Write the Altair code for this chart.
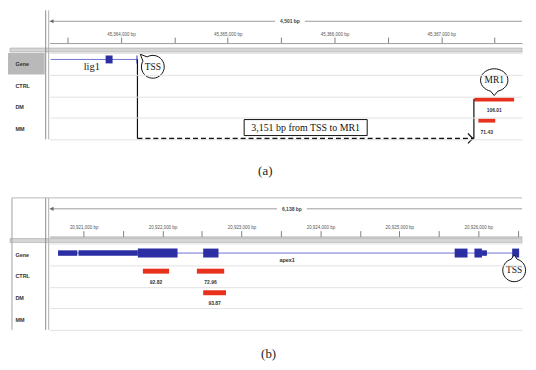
import altair as alt
import pandas as pd

TRACKS = ["Gene", "CTRL", "DM", "MM"]

# ---------------- Panel (a): lig1 locus ----------------
A_DOMAIN = [45363333, 45367757]
A_VIEW = [45363333, 45367834]
A_SPAN_LABEL = "4,501 bp"
A_TICKS = [45363500, 45364000, 45364500, 45365000, 45365500,
           45366000, 45366500, 45367000, 45367500]
A_INTRON = [45363343, 45364155]
A_EXON_START = [45363857, 45364146]
A_EXON_END = [45363922, 45364155]
A_GENE = "lig1"
A_GENE_LABEL_POS = 45363727
A_TSS = 45364155
A_MR1 = 45367306
A_PEAK_TRACK = ["DM", "MM"]
A_PEAK_START = [45367310, 45367348]
A_PEAK_END = [45367683, 45367506]
A_PEAK_VALUE = ["106.01", "71.43"]
A_DIST_LABEL = "3,151 bp from TSS to MR1"

# ---------------- Panel (b): apex1 locus ----------------
B_DOMAIN = [20920570, 20926555]
B_VIEW = [20920570, 20926708]
B_SPAN_LABEL = "6,138 bp"
B_TICKS = [20921000, 20921500, 20922000, 20922500, 20923000, 20923500,
           20924000, 20924500, 20925000, 20925500, 20926000, 20926500]
B_INTRON = [20920676, 20926518]
B_UTR_START = [20920676, 20920935, 20926047]
B_UTR_END = [20920920, 20921687, 20926110]
B_EXON_START = [20921687, 20922515, 20925701, 20925952, 20926430]
B_EXON_END = [20922190, 20922709, 20925864, 20926047, 20926518]
B_GENE = "apex1"
B_GENE_LABEL_POS = 20923578
B_TSS = 20926518
B_PEAK_TRACK = ["CTRL", "CTRL", "DM"]
B_PEAK_START = [20921751, 20922435, 20922515]
B_PEAK_END = [20922083, 20922781, 20922804]
B_PEAK_VALUE = ["92.82", "72.96", "93.87"]

# ---------------- styling ----------------
W = 476
H = 87
LEFT = 42
SERIF = "Liberation Serif"
SANS = "Liberation Sans"
BLUE = "#2b2fa3"
INTRON_BLUE = "#6f73d2"
RED = "#e8321e"

BUBBLE_DOWN = "M 0.31 0.966 A 1.2 1 0 1 0 -0.31 0.966 L 0 1.35 Z"
BUBBLE_UP = "M 0.26 -0.966 A 1 1 0 1 1 -0.26 -0.966 L 0 -1.35 Z"
BUBBLE_UPLEFT = "M -0.5 -0.866 A 1 1 0 1 1 -0.866 -0.5 L -1.1 -1.1 Z"
CHEVRON = "M -1 -1 L 0 0 L -1 1"
LABEL_BACK = "M -1 -0.3 H 1 V 0.3 H -1 Z"
TEXT_BOX = "M -1 -0.13 H 1 V 0.13 H -1 Z"


def X(field, xs):
    return alt.X(field + ":Q", scale=xs)


def Y(ys, field="track"):
    return alt.Y(field + ":N", sort=TRACKS, scale=ys)


def frame_layers(domain, view, span_label, ticks, axis_offset, top, gene_box):
    xs = alt.Scale(domain=domain, nice=False, zero=False)
    ys = alt.Scale(domain=TRACKS, paddingInner=0, paddingOuter=0)
    one = pd.DataFrame({"k": [0]})

    axis_df = pd.DataFrame({"pos": ticks, "track": "Gene"})
    axes = alt.Chart(axis_df).mark_point(opacity=0).encode(
        x=alt.X("pos:Q", scale=xs, axis=alt.Axis(
            orient="top", values=ticks, title=None, grid=False,
            labelExpr="datum.value % 1000 == 0 ? format(datum.value, ',') + ' bp' : ''",
            tickSize=6, offset=axis_offset, domainColor="#9a9a9a",
            tickColor="#808080", labelFontSize=4.5, labelColor="#555",
            labelFont=SANS, labelPadding=1)),
        y=alt.Y("track:N", sort=TRACKS, scale=ys, axis=alt.Axis(
            orient="left", title=None, ticks=False, domain=False,
            labelAlign="left", labelPadding=35, labelFontSize=5.5,
            labelFontWeight="bold", labelColor="#333", labelFont=SANS,
            grid=True, gridColor="#e2e2e2", tickBand="extent", zindex=1)),
    )

    layers = [axes]
    if gene_box:
        box = alt.Chart(pd.DataFrame({"track": ["Gene"]})).mark_rect(
            color="#b9b9b9").encode(
            y=Y(ys), x=alt.value(-LEFT), x2=alt.value(-5))
        layers.append(box)

    band = alt.Chart(one).mark_rect(color="#d6d6d6", stroke="#a8a8a8",
                                    strokeWidth=0.6).encode(
        x=alt.value(-LEFT + 2), x2=alt.value(W), y=alt.value(-5), y2=alt.value(-1))
    sep1 = alt.Chart(one).mark_rule(color="#8a8a8a", strokeWidth=1).encode(
        x=alt.value(-4), y=alt.value(top), y2=alt.value(H))
    sep2 = alt.Chart(one).mark_rule(color="#b0b0b0", strokeWidth=1).encode(
        x=alt.value(-1), y=alt.value(top), y2=alt.value(H))
    layers += [band, sep1, sep2]

    ruler_df = pd.DataFrame({"start": [view[0]], "end": [domain[1]],
                             "mid": [(view[0] + view[1]) / 2],
                             "label": [span_label]})
    rb = alt.Chart(ruler_df)
    ry = top + 11
    layers += [
        rb.mark_rule(color="#9a9a9a", strokeWidth=1).encode(
            x=X("start", xs), x2="end:Q", y=alt.value(ry)),
        rb.mark_point(shape="triangle-left", size=18, filled=True, color="#666",
                      opacity=1, xOffset=2).encode(
            x=X("start", xs), y=alt.value(ry)),
        rb.mark_point(shape=LABEL_BACK, size=900, filled=True, fill="white",
                      strokeWidth=0, opacity=1).encode(
            x=X("mid", xs), y=alt.value(ry)),
        rb.mark_text(fontSize=5, fontWeight="bold", color="#444", font=SANS).encode(
            x=X("mid", xs), y=alt.value(ry), text="label:N"),
    ]
    return layers, xs, ys


def rules(df, xs, ys, **kw):
    return alt.Chart(df).mark_rule(**kw).encode(
        x=X("start", xs), x2="end:Q", y=Y(ys))


def texts(df, xs, ys, field, **kw):
    return alt.Chart(df).mark_text(**kw).encode(
        x=X(field, xs), y=Y(ys), text="label:N")


def points(df, xs, ys, field, **kw):
    return alt.Chart(df).mark_point(**kw).encode(x=X(field, xs), y=Y(ys))


# ---------------- build panel (a) ----------------
la, xa, ya = frame_layers(A_DOMAIN, A_VIEW, A_SPAN_LABEL, A_TICKS, 10, -43, True)
intron_a = pd.DataFrame({"start": [A_INTRON[0]], "end": [A_INTRON[1]], "track": "Gene"})
exon_a = pd.DataFrame({"start": A_EXON_START, "end": A_EXON_END, "track": "Gene"})
peaks_a = pd.DataFrame({"start": A_PEAK_START, "end": A_PEAK_END,
                        "track": A_PEAK_TRACK, "label": A_PEAK_VALUE})
peaks_a["mid"] = (peaks_a["start"] + peaks_a["end"]) / 2
gene_lab_a = pd.DataFrame({"pos": [A_GENE_LABEL_POS], "track": "Gene", "label": [A_GENE]})
tss_a = pd.DataFrame({"pos": [A_TSS], "track": "Gene", "track2": "MM", "label": ["TSS"]})
mr1_line = pd.DataFrame({"pos": [A_MR1], "track": "DM", "track2": "MM"})
dash_a = pd.DataFrame({"start": [A_TSS], "end": [A_MR1], "pos": [A_MR1], "track": "MM",
                       "mid": [(A_TSS + A_MR1) / 2], "label": [A_DIST_LABEL]})
mr1_bub = pd.DataFrame({"pos": [peaks_a["mid"][0]], "track": "DM", "label": ["MR1"]})

la += [
    rules(intron_a, xa, ya, color=INTRON_BLUE, strokeWidth=1, yOffset=-4.4),
    rules(exon_a, xa, ya, color=BLUE, strokeWidth=8, yOffset=-4.4),
    texts(gene_lab_a, xa, ya, "pos", font=SERIF, fontSize=10.5, color="#222", yOffset=3),
    rules(peaks_a[peaks_a.track == "DM"], xa, ya, color=RED, strokeWidth=4, yOffset=-7.5),
    rules(peaks_a[peaks_a.track == "MM"], xa, ya, color=RED, strokeWidth=4, yOffset=-8),
    texts(peaks_a, xa, ya, "mid", font=SANS, fontSize=5, fontWeight="bold",
          color="#333", yOffset=3.5),
    alt.Chart(tss_a).mark_rule(color="#111", strokeWidth=1.2, yOffset=-4.4,
                               y2Offset=10).encode(
        x=X("pos", xa), y=Y(ya), y2="track2:N"),
    alt.Chart(mr1_line).mark_rule(color="#111", strokeWidth=1.2, yOffset=-8,
                                  y2Offset=10).encode(
        x=X("pos", xa), y=Y(ya), y2="track2:N"),
    rules(dash_a, xa, ya, color="#111", strokeWidth=1.4, strokeDash=[5, 3], yOffset=10),
    points(dash_a, xa, ya, "pos", shape=CHEVRON, size=100,
           filled=False, stroke="#111", strokeWidth=1.2, opacity=1, yOffset=10, xOffset=-1),
    points(dash_a, xa, ya, "mid", shape=TEXT_BOX, size=124 * 124, filled=True,
           fill="white", stroke="#111", strokeWidth=1, opacity=1, yOffset=-1),
    texts(dash_a, xa, ya, "mid", font=SERIF, fontSize=10, color="#111", yOffset=-1),
    points(tss_a, xa, ya, "pos", shape=BUBBLE_UPLEFT, size=529, filled=True,
           fill="white", stroke="#111", strokeWidth=1, opacity=1, xOffset=15.5, yOffset=3),
    texts(tss_a, xa, ya, "pos", font=SERIF, fontSize=9.5, color="#111",
          xOffset=15.5, yOffset=3),
    points(mr1_bub, xa, ya, "pos", shape=BUBBLE_DOWN, size=529, filled=True,
           fill="white", stroke="#111", strokeWidth=1, opacity=1, yOffset=-27),
    texts(mr1_bub, xa, ya, "pos", font=SERIF, fontSize=9.5, color="#111", yOffset=-27),
]

panel_a = alt.layer(*la).properties(
    width=W, height=H,
    title=alt.TitleParams("(a)", orient="bottom", font=SERIF, fontSize=13,
                          fontWeight="normal", color="#222", offset=19,
                          baseline="top", anchor="middle", frame="bounds"))

# ---------------- build panel (b) ----------------
lb, xb, yb = frame_layers(B_DOMAIN, B_VIEW, B_SPAN_LABEL, B_TICKS, 7, -46, False)
one = pd.DataFrame({"k": [0]})
top_line = alt.Chart(one).mark_rule(color="#b8b8b8", strokeWidth=1).encode(
    x=alt.value(-LEFT + 4), x2=alt.value(W), y=alt.value(-46))
outer = alt.Chart(one).mark_rule(color="#a0a0a0", strokeWidth=1).encode(
    x=alt.value(-LEFT + 4), y=alt.value(-46), y2=alt.value(H))
intron_b = pd.DataFrame({"start": [B_INTRON[0]], "end": [B_INTRON[1]], "track": "Gene"})
utr_b = pd.DataFrame({"start": B_UTR_START, "end": B_UTR_END, "track": "Gene"})
exon_b = pd.DataFrame({"start": B_EXON_START, "end": B_EXON_END, "track": "Gene"})
peaks_b = pd.DataFrame({"start": B_PEAK_START, "end": B_PEAK_END,
                        "track": B_PEAK_TRACK, "label": B_PEAK_VALUE})
peaks_b["mid"] = (peaks_b["start"] + peaks_b["end"]) / 2
gene_lab_b = pd.DataFrame({"pos": [B_GENE_LABEL_POS], "track": "Gene", "label": [B_GENE]})
tss_b = pd.DataFrame({"pos": [B_TSS], "track": "CTRL", "label": ["TSS"]})

lb += [
    top_line, outer,
    rules(intron_b, xb, yb, color=INTRON_BLUE, strokeWidth=1, yOffset=-1.3),
    rules(utr_b, xb, yb, color=BLUE, strokeWidth=5.5, yOffset=-1.3),
    rules(exon_b, xb, yb, color=BLUE, strokeWidth=9, yOffset=-1.3),
    texts(gene_lab_b, xb, yb, "pos", font=SANS, fontSize=5.5, fontWeight="bold",
          color="#333", yOffset=6),
    rules(peaks_b, xb, yb, color=RED, strokeWidth=5, yOffset=-4.8),
    texts(peaks_b, xb, yb, "mid", font=SANS, fontSize=5, fontWeight="bold",
          color="#333", yOffset=6),
    points(tss_b, xb, yb, "pos", shape=BUBBLE_UP, size=529, filled=True,
           fill="white", stroke="#111", strokeWidth=1, opacity=1, xOffset=-5, yOffset=-5.7),
    texts(tss_b, xb, yb, "pos", font=SERIF, fontSize=9.5, color="#111",
          xOffset=-5, yOffset=-5.7),
]

panel_b = alt.layer(*lb).properties(
    width=W, height=H,
    title=alt.TitleParams("(b)", orient="bottom", font=SERIF, fontSize=13,
                          fontWeight="normal", color="#222", offset=18,
                          baseline="top", anchor="middle", frame="bounds"))

chart = alt.vconcat(panel_a, panel_b, spacing=19).properties(
    padding=0, background="white"
).configure_view(strokeOpacity=0).configure_axis(labelFont=SANS)

chart.save("out.html", embed_options={"renderer": "svg", "actions": False})
